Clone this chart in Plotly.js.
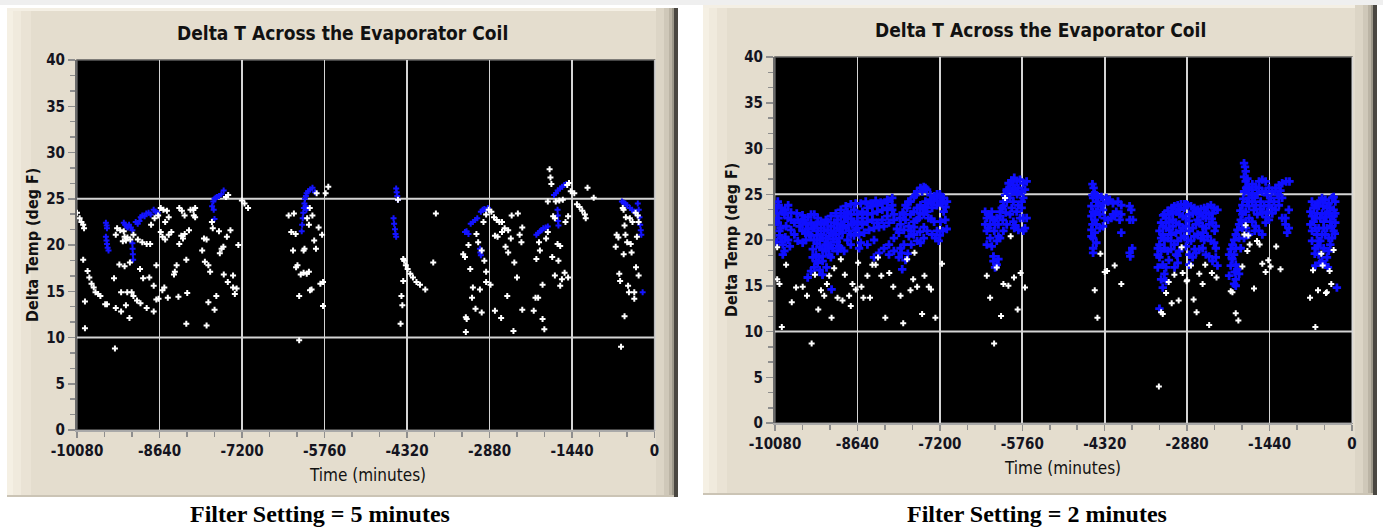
<!DOCTYPE html>
<html>
<head>
<meta charset="utf-8">
<script src="https://cdn.plot.ly/plotly-3.0.1.min.js"></script>
<style>
  html, body { margin: 0; padding: 0; background: #ffffff; }
  #chart { width: 1383px; height: 529px; }
</style>
</head>
<body>
<div id="chart"></div>
<script>
// ---------------- DATA ----------------
const chartTitle = 'Delta T Across the Evaporator Coil';
const xAxisTitle = 'Time (minutes)';
const yAxisTitle = 'Delta Temp (deg F)';
const captions = ['Filter Setting = 5 minutes', 'Filter Setting = 2 minutes'];

const xTickVals = [-10080, -8640, -7200, -5760, -4320, -2880, -1440, 0];
const xTickText = ['-10080', '-8640', '-7200', '-5760', '-4320', '-2880', '-1440', '0'];
const yTickVals = [0, 5, 10, 15, 20, 25, 30, 35, 40];
const yTickText = ['0', '5', '10', '15', '20', '25', '30', '35', '40'];
const refLines = [10, 25];

// Filter = 5 minutes : white points
const leftWhite = [
[-10080,23.5],[-10034,22.9],[-10003,22.5],[-9972,22.2],[-9957,21.8],[-9972,18.4],[-9941,13.9],[-9941,11.0],
[-9895,17.2],[-9865,16.5],[-9826,15.8],[-9788,15.4],[-9757,14.9],[-9711,14.7],[-9672,14.5],[-9588,13.6],[-9557,13.6],
[-9434,16.4],[-9418,8.8],[-9403,13.2],[-9310,12.8],[-9341,17.9],[-9249,17.7],[-9310,14.9],[-9203,14.9],[-9226,13.5],[-9164,12.1],[-9157,18.1],
[-9126,14.9],[-9095,14.5],[-9033,14.0],[-8972,13.7],[-8864,13.2],
[-9380,21.8],[-9326,21.6],[-9264,21.5],[-9403,21.1],[-9226,20.5],[-9280,20.4],[-9250,20.9],[-9200,20.8],[-9150,20.6],
[-9095,21.1],[-9018,20.6],[-8941,20.3],[-8864,20.1],[-8803,20.1],
[-8980,17.4],[-8926,16.4],[-8818,16.5],[-8741,15.6],[-8741,12.8],[-8695,17.8],[-8695,14.1],[-8657,14.2],
[-8726,22.9],[-8664,23.2],[-8787,22.2],
[-8618,24.0],[-8572,23.8],[-8618,21.4],[-8588,20.9],[-8541,20.6],[-8479,21.1],[-8433,21.4],
[-8510,23.7],[-8479,23.0],[-8541,22.5],[-8556,15.4],[-8495,14.3],[-8590,15.1],
[-8295,24.0],[-8249,23.7],[-8202,23.2],[-8295,20.1],[-8310,14.4],[-8260,21.0],[-8230,20.7],[-8200,21.2],
[-8372,17.1],[-8341,17.8],[-8387,16.8],[-8172,18.4],[-8156,14.8],[-8172,11.5],[-8125,21.6],
[-8049,23.8],[-8018,24.0],[-8018,23.0],[-8099,23.8],[-8041,23.2],
[-7864,20.7],[-7818,20.6],[-7895,19.4],[-7848,18.2],[-7787,17.8],[-7756,17.1],
[-7787,13.8],[-7818,11.3],[-7679,13.0],[-7648,14.5],
[-7710,21.8],[-7602,21.5],[-7587,19.1],[-7556,19.6],[-7525,19.8],[-7725,22.5],
[-7464,20.9],[-7402,21.6],
[-7518,16.8],[-7448,16.0],[-7356,15.4],[-7325,14.7],[-7356,16.7],[-7294,15.3],
[-7264,20.0],[-7202,24.8],[-7156,24.5],[-7094,24.0],[-7479,25.2],[-7441,25.4],
[-6386,23.2],[-6294,23.4],[-6340,21.4],[-6263,21.2],[-6309,19.4],[-6232,17.8],[-6202,14.5],[-6202,9.7],
[-6125,19.4],[-6109,19.6],[-6125,17.0],[-6032,17.1],[-6032,22.2],[-6063,22.9],[-6017,24.0],[-5971,23.2],
[-5986,15.2],[-5940,20.5],[-5909,19.6],[-5863,21.9],[-5832,15.8],[-5786,13.4],[-5786,16.0],[-5802,21.1],
[-5740,25.6],[-5694,26.3],[-5897,25.6],[-6070,16.9],[-6175,16.8],[-6256,17.6],[-6013,15.1],
[-4478,24.9],[-4386,18.5],[-4340,17.8],[-4309,17.4],[-4263,16.9],[-4216,16.5],[-4155,16.0],[-4093,15.7],[-4001,15.2],
[-4386,16.1],[-4417,14.5],[-4401,13.5],[-4432,11.5],[-3862,18.1],[-3816,23.4],[-4370,18.3],
[-3339,19.0],[-3308,18.7],[-3293,12.2],[-3278,12.0],[-3293,10.6],
[-3247,20.0],[-3216,17.4],[-3185,14.3],[-3170,15.4],[-3124,13.1],[-3016,12.7],[-3047,15.2],
[-3108,21.2],[-3078,20.3],[-3016,19.4],[-2970,18.3],[-2939,17.1],[-2939,16.0],[-2862,15.7],
[-2985,22.5],[-2939,23.3],[-2893,23.8],[-2847,23.6],
[-2801,23.0],[-2754,22.7],[-2708,22.5],[-2662,22.5],[-2785,21.0],[-2739,20.9],[-2662,21.4],[-2616,21.8],
[-2785,12.9],[-2677,12.1],
[-2600,19.8],[-2554,19.2],[-2570,14.5],[-2554,21.6],[-2508,20.7],[-2493,23.2],[-2447,18.1],[-2400,16.5],[-2354,21.1],[-2385,23.4],[-2462,10.7],
[-2308,21.9],[-2323,20.3],[-2308,13.0],
[-2108,12.9],[-2077,14.3],[-2062,18.5],[-2031,14.3],[-2016,20.3],[-2000,19.4],[-1954,15.7],[-1954,12.0],[-1923,10.9],[-1892,20.7],[-1862,21.4],
[-1831,28.2],[-1816,27.3],[-1800,26.6],[-1862,24.7],
[-1769,23.1],[-1739,22.9],[-1785,18.7],[-1739,16.7],[-1692,20.1],[-1646,19.9],[-1677,18.3],[-1646,15.6],[-1616,16.3],[-1569,17.0],[-1508,16.5],
[-1723,24.7],[-1662,24.8],[-1600,24.9],
[-1554,22.5],[-1508,23.1],[-1523,26.5],[-1492,26.7],[-1462,25.8],[-1400,25.6],
[-1354,24.4],[-1308,24.1],[-1261,23.7],[-1215,23.3],[-1200,22.9],
[-1169,26.2],[-1061,25.1],
[-677,19.8],[-661,21.1],[-631,20.8],[-615,16.9],[-600,16.1],[-584,9.0],[-554,24.0],[-523,22.1],[-523,12.3],[-538,19.0],
[-507,21.1],[-477,20.3],[-461,15.6],[-446,14.9],[-430,22.9],[-415,20.1],[-400,19.2],[-384,22.5],[-353,14.9],[-353,14.2],
[-323,17.6],[-307,20.9],[-277,16.7],[-277,22.5],[-292,23.2],[-540,23.8],[-500,23.0],[-330,23.5]
];

// Filter = 5 minutes : blue points
const leftBlue = [
[-9576,22.4],[-9562,22.1],[-9557,21.8],[-9576,20.9],[-9565,20.5],[-9557,20.1],[-9545,19.7],[-9530,19.4],
[-9263,22.4],[-9240,22.2],[-9215,22.0],[-9194,21.9],[-9171,22.2],[-9140,21.9],[-9113,21.6],
[-9113,20.2],[-9110,19.6],[-9105,19.0],[-9100,18.4],
[-9055,22.5],[-9020,22.3],[-8990,22.6],[-8968,23.0],[-8940,23.2],[-8900,23.1],[-8870,23.4],[-8830,23.5],[-8794,23.3],
[-8742,23.8],[-8710,23.6],[-8672,23.5],
[-7722,24.2],[-7700,24.7],[-7680,25.0],[-7660,25.1],[-7636,25.2],[-7694,23.8],[-7680,22.8],[-7600,25.3],[-7560,25.5],[-7520,25.9],
[-6158,21.5],[-6150,22.2],[-6140,22.9],[-6130,23.5],[-6120,24.0],[-6110,24.5],[-6100,25.0],[-6085,25.3],[-6072,25.6],
[-6046,25.8],[-6010,26.0],[-5970,26.2],[-5926,25.7],[-6090,24.2],[-6075,23.8],
[-4509,26.1],[-4500,25.7],[-4490,25.3],[-4478,24.9],[-4555,22.9],[-4545,22.3],[-4530,21.7],[-4520,21.2],[-4509,20.9],
[-3308,21.4],[-3280,21.5],[-3247,21.2],[-3208,22.3],[-3170,22.5],[-3130,22.7],[-3093,22.9],[-3047,19.6],[-3040,19.2],[-3031,18.9],
[-3031,23.6],[-3000,23.8],[-2970,23.9],[-2940,23.8],[-2908,24.0],
[-2062,21.1],[-2030,21.3],[-2000,21.5],[-1970,21.6],[-1940,21.8],[-1900,21.9],[-1862,22.0],
[-1754,25.4],[-1720,25.6],[-1690,25.9],[-1650,26.1],[-1610,26.3],[-1575,26.5],[-1539,26.6],
[-1692,23.8],[-1688,23.2],[-1682,22.6],[-1677,22.1],
[-569,24.7],[-540,24.6],[-510,24.5],[-477,24.3],[-430,24.0],[-390,23.8],[-353,23.6],
[-292,24.5],[-275,23.8],[-262,23.0],[-250,22.2],[-240,21.6],[-230,21.1],[-207,14.9]
];

// Filter = 2 minutes : white points
const rightWhite = [
[-10042,19.2],[-10042,15.7],[-10002,15.2],[-9961,10.5],[-9886,17.3],[-9787,13.2],[-9712,14.8],[-9596,14.9],[-9521,13.9],[-9440,8.7],
[-9382,16.2],[-9324,12.4],[-9277,14.5],[-9220,13.9],[-9173,15.2],[-9133,16.1],[-9092,11.5],[-9046,16.9],[-8988,13.7],[-8930,17.9],
[-8901,13.4],[-8860,16.2],[-8785,13.9],[-8756,12.8],[-8727,15.2],[-8669,14.6],[-8628,17.5],[-8570,14.9],[-8536,13.7],[-8466,16.1],
[-8420,13.7],[-8379,17.3],[-8321,17.3],[-8281,18.1],[-8223,16.1],[-8153,11.5],[-8084,16.4],[-8014,14.9],[-7887,13.9],[-7840,10.9],
[-7771,17.9],[-7713,14.5],[-7666,15.7],[-7643,18.6],[-7597,14.9],[-7510,11.9],[-7469,16.1],[-7394,14.9],[-7354,14.6],[-7278,11.5],[-7162,17.4],
[-6380,16.1],[-6322,13.7],[-6206,17.0],[-6131,11.7],[-6090,15.2],[-6003,15.0],[-5963,20.4],[-6061,24.6],[-5905,15.9],[-5841,12.4],
[-5789,16.4],[-5713,14.8],[-6252,8.7],
[-4395,18.5],[-4320,16.5],[-4279,16.6],[-4146,17.2],[-4494,14.5],[-4030,15.2],[-4447,11.5],
[-3374,4.0],
[-2976,19.2],[-2813,17.2],[-2958,16.4],[-3103,16.2],[-2889,15.5],[-2880,15.6],[-2668,16.3],[-2564,17.3],[-2448,16.4],[-2367,15.9],[-2610,15.2],
[-3202,15.4],[-3248,14.2],[-2767,13.5],[-3028,13.4],[-3150,13.1],[-2715,12.1],[-2495,10.7],[-3306,11.9],[-3335,12.1],
[-1857,21.6],[-1880,20.6],[-1811,20.5],[-1788,19.5],[-1614,19.5],[-1660,19.9],[-1828,18.8],[-1915,17.1],[-1567,17.4],[-1422,17.1],
[-1509,16.5],[-1463,17.8],[-1324,19.3],[-1249,16.8],[-1712,14.7],[-2118,14.4],[-2089,14.3],[-2031,12.0],[-1985,11.2],
[-536,18.5],[-321,18.9],[-513,17.2],[-681,16.7],[-391,16.6],[-362,15.2],[-594,14.5],[-455,14.2],[-440,14.3],[-733,13.7],[-640,10.5]
];

// Filter = 2 minutes : blue points
const rightBlue = [
[-10031,24.2],[-10019,23.8],[-10042,22.9],[-10019,22.4],[-10031,21.9],[-9984,21.3],[-9973,20.2],[-9944,18.4],[-9915,18.8],
[-10060,23.5],[-10060,22.0],[-10002,21.0],[-9944,19.5],
[-9973,23.5],[-9944,23.1],[-9915,22.8],[-9857,22.4],[-9799,22.2],[-9741,21.9],[-9683,22.2],[-9625,22.0],[-9567,22.2],
[-9886,21.5],[-9799,21.1],[-9741,20.6],[-9683,19.9],
[-9596,19.7],[-9538,20.0],[-9480,20.6],[-9422,21.3],[-9364,21.7],[-9277,22.0],[-9191,22.2],[-9104,22.6],[-9017,22.9],
[-8930,23.3],[-8843,23.7],[-8756,23.9],[-8669,24.0],
[-9393,22.8],[-9335,22.4],[-9277,21.3],[-9220,21.7],[-9162,22.0],[-9104,21.5],[-9046,21.9],[-8988,22.2],[-8930,22.6],
[-8872,22.9],[-8814,23.1],[-9220,21.0],[-9162,21.1],[-9104,20.8],[-9046,21.0],[-8988,21.3],[-8930,21.7],[-8872,22.0],
[-8814,22.4],[-8756,22.8],[-8698,23.3],[-9277,20.6],[-9191,20.2],[-9133,20.4],[-9335,21.0],[-9393,21.5],[-9451,21.9],
[-9538,21.7],[-9162,19.7],[-9104,19.5],[-9017,20.6],[-8959,20.2],[-8901,20.8],[-8843,21.3],[-8785,21.0],[-8727,21.7],
[-8669,21.1],[-8814,20.0],[-8756,19.5],[-8930,19.1],[-8988,18.8],[-8872,18.8],
[-9422,18.1],[-9364,18.4],[-9306,18.1],[-9248,18.2],[-9191,18.8],[-9133,19.3],[-9075,19.1],[-9364,17.7],[-9248,17.7],
[-9150,19.1],[-9133,18.4],[-9104,18.1],[-9451,16.6],[-9393,17.0],[-9335,17.5],[-9509,15.9],[-9092,14.6],
[-9650,21.5],[-9600,21.0],[-9550,20.8],[-9500,21.2],[-9450,20.5],[-9400,20.0],[-9350,19.6],[-9300,19.2],[-9250,19.0],
[-9200,19.5],[-9420,19.0],[-9350,20.5],[-9300,20.0],[-9250,20.2],[-9000,21.8],[-8950,21.0],[-8900,21.5],[-8850,22.5],
[-8800,21.6],[-8750,22.3],[-8700,22.0],[-8700,20.5],[-8760,20.6],[-9060,20.1],[-9000,19.8],[-8960,19.3],[-9500,22.5],
[-9450,22.8],[-9600,22.7],[-9700,22.9],[-9850,23.8],[-9900,23.3],[-9800,23.0],[-10000,20.5],[-10050,19.8],[-9950,19.8],
[-9900,20.3],[-9850,20.0],[-9820,19.3],[-9300,16.7],[-9250,16.2],[-9180,17.0],
[-8640,22.8],[-8553,23.1],[-8466,23.5],[-8379,23.7],[-8292,23.8],[-8205,24.0],[-8118,24.2],[-8032,23.8],
[-8582,24.0],[-8495,24.2],[-8408,24.0],[-8321,24.3],[-8234,24.1],[-8118,24.4],[-8032,24.6],
[-8640,21.3],[-8553,21.7],[-8466,22.0],[-8379,22.2],[-8292,21.9],[-8205,22.2],[-8118,22.6],[-8003,22.8],
[-8611,20.6],[-8524,20.8],[-8437,21.1],[-8350,21.3],[-8263,21.4],[-8176,21.5],[-8089,21.9],[-8003,22.2],
[-8582,19.7],[-8466,19.5],[-8350,20.0],[-8611,19.1],
[-8640,22.0],[-8553,22.4],[-8466,22.8],[-8379,22.9],[-8292,23.1],[-8205,23.3],[-8118,23.5],[-8032,23.3],
[-8350,18.1],[-8263,18.6],[-8176,19.1],[-8089,19.5],[-8003,20.2],[-7916,20.8],[-7829,21.1],[-7742,21.5],[-7655,22.0],
[-7568,22.4],[-7481,22.8],[-7423,23.1],[-7336,23.5],[-7249,23.8],[-7162,24.0],[-7075,24.2],
[-7887,21.7],[-7800,22.2],[-7713,22.8],[-7655,23.1],[-7597,23.5],[-7539,23.8],[-7452,24.2],[-7365,24.4],[-7278,24.6],
[-7191,24.7],[-7133,24.6],
[-7829,22.8],[-7771,23.5],[-7713,24.2],[-7655,24.7],[-7597,25.3],[-7539,25.7],[-7481,25.8],[-7423,25.5],[-7365,24.9],
[-7307,24.6],[-7249,24.3],[-7191,24.6],[-7510,25.3],[-7626,24.9],[-7452,25.7],
[-7887,19.1],[-7829,19.5],[-7742,20.4],[-7655,20.6],[-7597,19.9],[-7539,19.7],[-7481,20.2],[-7423,21.0],[-7336,20.6],
[-7278,20.2],[-7858,16.8],[-7916,18.1],[-8003,18.8],[-8089,18.4],[-7249,21.0],[-7191,22.0],[-7104,22.2],[-7133,23.1],[-7220,19.9],
[-7950,21.2],[-7900,22.4],[-7850,23.0],[-7800,23.8],[-7750,24.2],[-7700,21.0],[-7650,21.4],[-7600,22.2],[-7550,22.9],
[-7500,23.4],[-7450,23.6],[-7400,24.0],[-7350,24.1],[-7300,24.8],[-7250,25.0],[-7200,25.0],[-7150,24.2],[-7100,23.6],
[-7080,21.2],[-7150,21.0],[-7200,20.5],[-7300,22.0],[-7350,22.3],[-7400,22.4],[-7480,21.4],[-7550,20.9],[-7700,19.5],
[-7760,18.5],[-7800,17.8],[-7870,18.6],
[-6409,23.1],[-6380,22.4],[-6351,21.3],[-6322,20.2],[-6293,19.3],[-6264,17.7],[-6235,17.0],[-6206,17.3],[-6177,21.7],
[-6148,22.6],[-6119,23.5],[-6090,24.2],[-6061,24.9],[-6032,25.5],[-5974,25.7],[-5916,26.0],[-5858,26.4],[-5800,26.6],
[-5742,26.2],[-5684,26.4],[-5713,25.5],[-5742,24.6],[-5771,23.5],[-5800,22.4],[-5829,21.1],[-5742,22.4],[-5684,22.4],
[-5858,23.1],[-5916,22.0],[-5974,22.8],[-6032,21.7],[-6090,21.0],[-6148,20.2],[-6206,19.9],
[-6032,25.3],[-6003,25.5],[-5945,25.3],[-5887,25.5],[-5829,25.7],[-5771,25.3],[-6090,23.7],[-6032,24.2],[-5974,24.6],
[-5916,24.2],[-6148,23.1],[-6206,22.4],[-6264,22.2],[-6322,21.7],[-6380,21.0],[-6351,22.8],[-6293,23.1],[-6235,21.7],
[-6177,20.4],[-6264,18.2],[-6177,17.9],[-5945,23.5],[-5829,23.8],[-5771,24.2],[-5742,21.0],[-5713,21.3],[-6409,21.7],[-6380,19.5],
[-6000,26.2],[-5950,26.5],[-5900,26.8],[-5850,25.0],[-6100,22.2],[-6250,21.0],[-6300,22.5],[-6050,23.0],[-5900,21.3],[-5880,21.6],
[-4534,26.1],[-4514,25.7],[-4494,25.1],[-4523,24.6],[-4465,24.2],[-4552,23.7],[-4523,23.1],[-4552,22.6],[-4494,22.2],
[-4534,21.7],[-4552,21.1],[-4494,20.8],[-4523,20.2],[-4465,19.7],[-4523,19.1],[-4523,18.6],
[-4436,24.6],[-4378,24.7],[-4291,24.6],[-4233,24.4],[-4175,24.0],[-4088,24.2],[-4030,23.8],[-4349,23.3],[-4407,22.8],
[-4320,22.4],[-4262,22.2],[-4204,22.4],[-4146,22.6],[-4059,22.2],[-4349,21.5],[-4407,21.3],[-4030,20.8],[-3885,23.7],
[-3856,23.3],[-3885,22.2],[-3827,22.2],[-3839,19.1],[-3885,18.6],[-3874,18.2],[-4465,23.1],[-4378,23.7],
[-4534,24.9],[-4465,24.9],[-4494,22.8],[-4465,21.7],[-4552,20.4],[-4436,23.7],[-4349,24.0],[-4262,24.2],[-4175,22.8],[-4117,23.1],[-4030,22.8],
[-3045,23.8],[-2987,23.9],[-2929,23.9],[-2871,23.8],[-2813,23.7],[-2755,23.5],[-2697,23.3],[-2639,23.4],[-2582,23.5],
[-2524,23.6],[-2466,23.8],[-2408,23.5],[-2350,23.3],
[-3248,22.4],[-3190,22.8],[-3132,22.9],[-3074,23.1],[-3016,22.8],[-2958,22.6],[-2900,22.4],[-2842,22.8],[-2784,22.9],
[-2726,23.1],[-2668,22.8],[-2610,22.6],[-2553,22.4],[-2495,22.8],[-2437,22.9],
[-3306,21.5],[-3248,21.3],[-3190,21.1],[-3132,21.5],[-3074,21.9],[-3016,21.7],[-2958,21.3],[-2900,21.5],[-2842,21.0],
[-2784,21.3],[-2726,21.7],[-2668,21.9],[-2610,21.5],[-2553,21.3],[-2495,21.7],[-2437,21.9],[-2379,21.5],
[-3335,20.2],[-3277,20.0],[-3219,20.2],[-3161,19.9],[-3103,19.5],[-3045,19.9],[-2987,20.2],[-2929,20.4],[-2871,20.0],
[-2813,19.9],[-2755,20.4],[-2697,20.6],[-2639,20.2],[-2582,20.0],[-2524,20.4],[-2466,19.9],[-2408,19.7],[-2379,19.1],
[-3335,18.8],[-3277,19.1],[-3219,18.8],[-3161,19.0],[-3074,18.4],[-3016,18.8],[-2842,18.4],[-2784,18.1],[-2726,18.6],
[-2668,19.0],[-2610,19.1],[-2553,18.4],[-2495,18.2],[-2437,17.7],[-2379,18.1],[-2350,17.2],
[-3364,18.1],[-3306,17.3],[-3248,17.0],[-3277,16.3],[-3335,15.7],[-3248,15.5],[-3306,14.8],[-3045,17.5],[-2842,17.3],[-3364,12.5],
[-3364,21.0],[-3364,19.5],[-3306,20.6],[-3248,21.9],[-3190,22.0],[-3277,22.8],[-3103,23.7],[-3016,23.3],[-2929,23.5],
[-2900,23.9],[-2987,21.0],[-3074,20.8],[-3161,20.6],[-3132,22.2],[-3335,21.9],[-3393,19.1],[-3393,18.4],[-3393,17.0],
[-3300,22.7],[-3220,23.2],[-3150,23.5],[-2850,22.1],[-2700,22.2],[-2550,23.0],[-2450,22.3],[-2400,21.0],[-2600,20.8],
[-2750,19.0],[-2900,19.3],[-3050,18.3],[-3200,17.8],[-3100,17.0],
[-1886,28.4],[-1869,28.0],[-1857,27.5],[-1886,26.9],[-1857,26.4],[-1828,25.8],[-1886,25.3],[-1799,25.1],[-1741,25.5],
[-1683,25.8],[-1625,26.4],[-1567,26.6],[-1509,26.4],[-1451,25.7],[-1393,25.3],[-1336,25.7],[-1277,26.0],[-1220,26.2],
[-1150,26.4],[-1092,26.4],
[-1799,24.6],[-1741,24.2],[-1683,23.8],[-1596,24.2],[-1538,23.7],[-1480,23.1],[-1799,23.7],[-1857,23.1],[-1915,22.8],
[-1944,22.2],[-1973,21.7],[-2002,21.1],[-2031,20.6],[-2060,20.0],[-2089,19.5],[-2118,19.0],[-2147,18.4],[-2089,17.9],
[-2031,17.3],[-2002,16.8],[-1973,16.3],[-2031,15.7],[-2060,15.2],
[-1857,22.0],[-1799,22.4],[-1741,22.0],[-1683,21.5],[-1625,21.0],[-1567,20.6],[-1509,21.9],[-1451,22.2],[-1393,22.9],
[-1336,23.3],[-1277,23.8],[-1220,22.4],[-1162,21.7],[-1104,21.3],[-1220,24.6],[-1277,24.6],
[-2147,16.1],[-2031,15.0],[-2118,17.2],
[-1915,21.3],[-1973,20.2],[-2031,19.1],[-2060,18.4],[-1944,19.1],[-1886,20.2],[-1915,23.8],[-1828,24.2],[-1741,24.9],
[-1654,25.1],[-1567,25.3],[-1480,24.9],[-1422,24.6],[-1364,24.2],[-1451,23.8],[-1567,22.9],[-1654,22.8],[-1712,23.3],
[-1509,25.3],[-1625,25.7],[-1799,25.7],[-1828,26.7],[-1741,26.1],[-1104,23.3],[-1162,22.4],[-1133,20.8],
[-1950,23.2],[-1900,24.5],[-1850,25.7],[-1700,24.6],[-1600,23.4],[-1500,22.5],[-1450,24.2],[-1400,23.5],[-1300,25.0],
[-1250,25.4],[-1850,21.3],[-1800,20.6],[-1700,21.0],[-2100,18.0],[-2050,16.5],
[-727,23.1],[-698,22.6],[-669,22.0],[-640,21.3],[-611,20.6],[-698,19.9],[-640,19.1],[-582,18.4],[-524,17.7],[-640,17.2],
[-727,21.7],[-698,21.0],[-582,23.7],[-553,24.2],[-524,24.6],[-466,24.4],[-408,24.0],[-350,24.6],[-321,24.7],[-292,24.2],
[-321,23.3],[-350,22.6],[-292,21.9],[-321,21.0],[-350,20.2],[-379,19.5],[-408,18.8],[-437,18.1],[-466,17.3],[-495,22.0],
[-466,22.8],[-524,22.9],[-437,21.3],[-524,20.6],[-553,19.9],[-495,19.1],[-611,22.9],[-379,22.0],[-264,14.8],
[-640,22.4],[-553,22.4],[-437,23.5],[-379,23.5],[-466,20.6],[-408,20.2],[-582,21.3],[-495,21.3],[-669,23.5],[-321,22.6],
[-292,22.9],[-582,19.9],
[-700,24.2],[-650,23.8],[-600,24.0],[-500,23.7],[-450,22.5],[-400,22.9],[-350,21.5],[-300,20.7],[-600,19.3],[-650,18.5],
[-550,17.5],[-420,17.0]
];

// ---------------- LAYOUT HELPERS ----------------
const W = 1383, H = 529;
const fx = v => v / W;
const fy = v => 1 - v / H;

const panels = [
  { frame: [7, 8, 678, 497], plot: [77, 60, 654.5, 430], title: [342, 33], xt: [367, 475], yt: [32, 245], cap: [320, 514] },
  { frame: [703, 5, 1377, 495], plot: [775, 57, 1352, 423], title: [1040, 30], xt: [1062, 468], yt: [731, 240], cap: [1037, 514] }
];

function rect(x0, y0, x1, y1, fill, line) {
  return { type: 'rect', xref: 'paper', yref: 'paper', x0: fx(x0), x1: fx(x1), y0: fy(y1), y1: fy(y0),
           fillcolor: fill, line: line || { width: 0 }, layer: 'below' };
}

const shapes = [rect(0, 0, W, 5, '#efefef')];
panels.forEach((p, i) => {
  const [a, b, c, d] = p.frame;
  const [pl, pt, pr, pb] = p.plot;
  shapes.push(rect(a, b, c, d, '#e4ddce'));
  shapes.push(rect(a, b, a + 6, d, '#f5f0e4'));
  shapes.push(rect(a + 6, b, a + 14, d, '#f0eadd'));
  shapes.push(rect(a + 14, b, a + 24, d, '#eae3d5'));
  shapes.push(rect(a, b, c, b + 3, '#f4efe4'));
  shapes.push(rect(c - 22, b, c - 14, d, '#dcd5c6'));
  shapes.push(rect(c - 14, b, c - 9, d, '#cfc8b9'));
  shapes.push(rect(c - 9, b, c - 6, d, '#bbb4a5'));
  shapes.push(rect(c - 6, b, c - 4, d, '#9d988a'));
  shapes.push(rect(c - 4, b, c, d, '#4a4741'));
  shapes.push(rect(a, d - 2, c - 4, d, '#cbc4b5'));
  shapes.push(rect(pl, pt, pr, pb, '#000000', { color: '#5c5c5c', width: 1.5 }));
  shapes.push({ type: 'line', xref: 'paper', yref: 'paper', x0: fx(pr + 0.5), x1: fx(pr + 0.5), y0: fy(pb), y1: fy(pt),
                line: { color: '#d8d8d8', width: 1.5 }, layer: 'below' });
  const sx = i === 0 ? 'x' : 'x2', sy = i === 0 ? 'y' : 'y2';
  refLines.forEach(v => shapes.push({ type: 'line', xref: sx + ' domain', yref: sy, x0: 0, x1: 1, y0: v, y1: v,
                                      line: { color: '#d4d4d4', width: 1.8 }, layer: 'below' }));
});

const tickFont = { family: 'DejaVu Sans Condensed, DejaVu Sans, sans-serif', size: 15, color: '#141420', weight: 'bold' };

function xAxis(p, anchor) {
  return {
    domain: [fx(p.plot[0]), fx(p.plot[2])], anchor: anchor, range: [-10080, 0], fixedrange: true,
    tickmode: 'array', tickvals: xTickVals, ticktext: xTickText, tickfont: tickFont,
    ticks: 'outside', ticklen: 6, tickwidth: 1.5, tickcolor: '#8e8e8e',
    minor: { tickmode: 'linear', tick0: -10080, dtick: 480, ticks: 'outside', ticklen: 5, tickwidth: 1.5, tickcolor: '#8e8e8e', showgrid: false },
    showgrid: true, gridcolor: '#d4d4d4', gridwidth: 1.8, zeroline: false,
    showline: true, linecolor: '#a9a9a9', linewidth: 2
  };
}
function yAxis(p, anchor) {
  return {
    domain: [fy(p.plot[3]), fy(p.plot[1])], anchor: anchor, range: [0, 40], fixedrange: true,
    tickmode: 'array', tickvals: yTickVals, ticktext: yTickText, tickfont: tickFont,
    ticks: 'outside', ticklen: 7, tickwidth: 1.5, tickcolor: '#8e8e8e',
    minor: { tickmode: 'linear', tick0: 0, dtick: 5 / 3, ticks: 'outside', ticklen: 5, tickwidth: 1.5, tickcolor: '#8e8e8e', showgrid: false },
    showgrid: false, zeroline: false,
    showline: true, linecolor: '#6a6a6a', linewidth: 2
  };
}

const annotations = [];
panels.forEach((p, i) => {
  annotations.push({ text: chartTitle, xref: 'paper', yref: 'paper', x: fx(p.title[0]), y: fy(p.title[1]),
    xanchor: 'center', yanchor: 'middle', showarrow: false,
    font: { family: 'DejaVu Sans Condensed, DejaVu Sans, sans-serif', size: 19, color: '#111111', weight: 'bold' } });
  annotations.push({ text: xAxisTitle, xref: 'paper', yref: 'paper', x: fx(p.xt[0]), y: fy(p.xt[1]),
    xanchor: 'center', yanchor: 'middle', showarrow: false,
    font: { family: 'DejaVu Sans Condensed, DejaVu Sans, sans-serif', size: 17, color: '#111111' } });
  annotations.push({ text: yAxisTitle, xref: 'paper', yref: 'paper', x: fx(p.yt[0]), y: fy(p.yt[1]),
    xanchor: 'center', yanchor: 'middle', showarrow: false, textangle: -90,
    font: { family: 'DejaVu Sans Condensed, DejaVu Sans, sans-serif', size: 16, color: '#111111', weight: 'bold' } });
  annotations.push({ text: captions[i], xref: 'paper', yref: 'paper', x: fx(p.cap[0]), y: fy(p.cap[1]),
    xanchor: 'center', yanchor: 'middle', showarrow: false,
    font: { family: 'Liberation Serif, Times New Roman, serif', size: 24, color: '#000000', weight: 'bold' } });
});

function pts(arr, xa, ya, color, size) {
  return { type: 'scatter', mode: 'markers', x: arr.map(d => d[0]), y: arr.map(d => d[1]), xaxis: xa, yaxis: ya,
           marker: { symbol: 'cross', size: size, color: color, line: { width: 0 } }, hoverinfo: 'skip', showlegend: false };
}

const traces = [
  pts(leftBlue, 'x', 'y', '#1414ff', 5),
  pts(leftWhite, 'x', 'y', '#ffffff', 5),
  pts(rightBlue, 'x2', 'y2', '#1010ff', 7),
  pts(rightWhite, 'x2', 'y2', '#ffffff', 5)
];

const layout = {
  width: W, height: H, autosize: false,
  margin: { l: 0, r: 0, t: 0, b: 0, pad: 0 },
  paper_bgcolor: '#ffffff', plot_bgcolor: 'rgba(0,0,0,0)',
  showlegend: false,
  xaxis: xAxis(panels[0], 'y'), yaxis: yAxis(panels[0], 'x'),
  xaxis2: xAxis(panels[1], 'y2'), yaxis2: yAxis(panels[1], 'x2'),
  shapes: shapes, annotations: annotations
};

Plotly.newPlot('chart', traces, layout, { staticPlot: true, displayModeBar: false });
</script>
</body>
</html>
